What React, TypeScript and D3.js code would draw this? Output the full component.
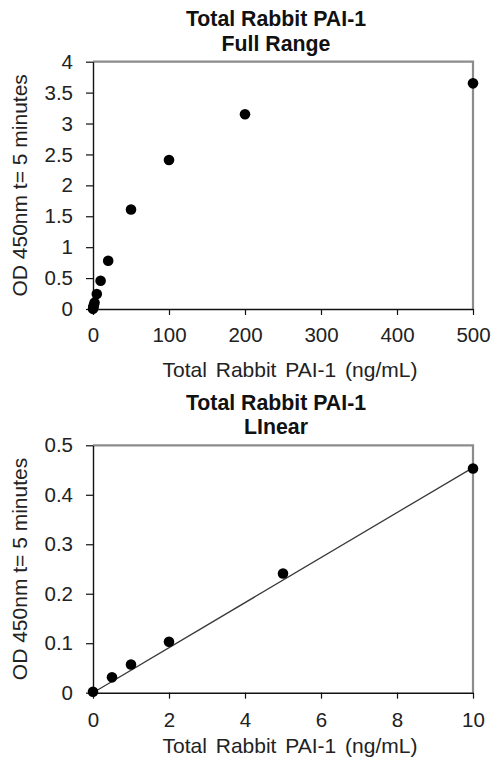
import React, { useEffect, useRef } from "react";
import * as d3 from "d3";

// Full range calibration points (ng/mL, OD 450nm)
const FULL_CONC = [0, 0.5, 1, 2, 5, 10, 20, 50, 100, 200, 500];
const FULL_OD = [0.002, 0.031, 0.057, 0.103, 0.241, 0.458, 0.78, 1.61, 2.41, 3.15, 3.65];
const FULL_X_TICKS = [0, 100, 200, 300, 400, 500];
const FULL_Y_TICKS = [0, 0.5, 1, 1.5, 2, 2.5, 3, 3.5, 4];

// Linear range points
const LIN_CONC = [0, 0.5, 1, 2, 5, 10];
const LIN_OD = [0.002, 0.031, 0.057, 0.103, 0.241, 0.453];
const LIN_X_TICKS = [0, 2, 4, 6, 8, 10];
const LIN_Y_TICKS = [0, 0.1, 0.2, 0.3, 0.4, 0.5];

// trendline
const FIT_SLOPE = 0.0455;
const FIT_INTERCEPT = 0;

const FONT = "'Liberation Sans', Arial, sans-serif";
const TEXT_COLOR = "#222";

interface PanelConfig {
  top: number;
  bottom: number;
  title: string[];
  titleY: number[];
  xs: number[];
  ys: number[];
  xTicks: number[];
  yTicks: number[];
  tickBaseline: number;
  axisTitleY: number;
  fit?: boolean;
}

const LEFT = 93;
const RIGHT = 473;

const drawPanel = (
  svg: d3.Selection<SVGSVGElement, unknown, null, undefined>,
  cfg: PanelConfig
): void => {
  const x = d3
    .scaleLinear()
    .domain([0, cfg.xTicks[cfg.xTicks.length - 1]])
    .range([LEFT, RIGHT]);
  const y = d3
    .scaleLinear()
    .domain([0, cfg.yTicks[cfg.yTicks.length - 1]])
    .range([cfg.bottom, cfg.top]);

  const g = svg.append("g");

  // Gray frame on top and right
  g.append("path")
    .attr("d", `M${LEFT},${cfg.top}H${RIGHT}V${cfg.bottom}`)
    .attr("fill", "none")
    .attr("stroke", "#8c8c8c")
    .attr("stroke-width", 2.2);

  // Y axis
  const yAxis = g
    .append("g")
    .attr("transform", `translate(${LEFT},0)`)
    .call(
      d3
        .axisLeft(y)
        .tickValues(cfg.yTicks)
        .tickFormat((d) => String(d))
        .tickSize(7)
        .tickSizeOuter(0)
        .tickPadding(13)
    );
  yAxis.select(".domain").attr("stroke", "#111").attr("stroke-width", 1.4);
  yAxis.selectAll(".tick line").attr("stroke", "#111").attr("stroke-width", 1.2);
  yAxis
    .selectAll(".tick text")
    .attr("font-family", FONT)
    .attr("font-size", 20.5)
    .attr("fill", TEXT_COLOR);

  // X axis
  const xAxis = g
    .append("g")
    .attr("transform", `translate(0,${cfg.bottom})`)
    .call(
      d3
        .axisBottom(x)
        .tickValues(cfg.xTicks)
        .tickFormat((d) => String(d))
        .tickSize(6)
        .tickSizeOuter(0)
    );
  xAxis.select(".domain").attr("stroke", "#111").attr("stroke-width", 1.4);
  xAxis.selectAll(".tick line").attr("stroke", "#111").attr("stroke-width", 1.2);
  xAxis
    .selectAll(".tick text")
    .attr("font-family", FONT)
    .attr("font-size", 20.5)
    .attr("fill", TEXT_COLOR)
    .attr("dy", null)
    .attr("y", cfg.tickBaseline - cfg.bottom);

  // Trendline
  if (cfg.fit) {
    const x0 = 0;
    const x1 = cfg.xTicks[cfg.xTicks.length - 1];
    g.append("line")
      .attr("x1", x(x0))
      .attr("y1", y(FIT_INTERCEPT + FIT_SLOPE * x0))
      .attr("x2", x(x1))
      .attr("y2", y(FIT_INTERCEPT + FIT_SLOPE * x1))
      .attr("stroke", "#3a3a3a")
      .attr("stroke-width", 1.3);
  }

  // Points
  g.selectAll(".pt")
    .data(cfg.xs.map((v, i) => [v, cfg.ys[i]]))
    .enter()
    .append("circle")
    .attr("class", "pt")
    .attr("cx", (d) => x(d[0]))
    .attr("cy", (d) => y(d[1]))
    .attr("r", 5.3)
    .attr("fill", "#000");

  // Titles
  cfg.title.forEach((t, i) => {
    g.append("text")
      .attr("x", 276)
      .attr("y", cfg.titleY[i])
      .attr("text-anchor", "middle")
      .attr("font-family", FONT)
      .attr("font-weight", "bold")
      .attr("font-size", 21.3)
      .attr("fill", "#111")
      .text(t);
  });

  g.append("text")
    .attr("x", 290)
    .attr("y", cfg.axisTitleY)
    .attr("text-anchor", "middle")
    .attr("font-family", FONT)
    .attr("font-size", 21)
    .attr("word-spacing", 3)
    .attr("fill", TEXT_COLOR)
    .text("Total Rabbit PAI-1 (ng/mL)");

  g.append("text")
    .attr(
      "transform",
      `translate(27,${(cfg.top + cfg.bottom) / 2}) rotate(-90)`
    )
    .attr("text-anchor", "middle")
    .attr("font-family", FONT)
    .attr("font-size", 21)
    .attr("fill", TEXT_COLOR)
    .text("OD 450nm t= 5 minutes");
};

const App: React.FC = () => {
  const svgRef = useRef<SVGSVGElement>(null);

  useEffect(() => {
    if (!svgRef.current) return;
    const svg = d3.select(svgRef.current);
    svg.selectAll("*").remove();

    drawPanel(svg, {
      top: 61.7,
      bottom: 309,
      title: ["Total Rabbit PAI-1", "Full Range"],
      titleY: [26, 50.5],
      xs: FULL_CONC,
      ys: FULL_OD,
      xTicks: FULL_X_TICKS,
      yTicks: FULL_Y_TICKS,
      tickBaseline: 341.7,
      axisTitleY: 376.5,
    });

    drawPanel(svg, {
      top: 445.3,
      bottom: 692.7,
      title: ["Total Rabbit PAI-1", "LInear"],
      titleY: [410, 434.3],
      xs: LIN_CONC,
      ys: LIN_OD,
      xTicks: LIN_X_TICKS,
      yTicks: LIN_Y_TICKS,
      tickBaseline: 727,
      axisTitleY: 752.5,
      fit: true,
    });
  }, []);

  return (
    <svg
      ref={svgRef}
      width={493}
      height={757}
      style={{ position: "absolute", left: 0, top: 0, background: "#fff" }}
    />
  );
};

export default App;
